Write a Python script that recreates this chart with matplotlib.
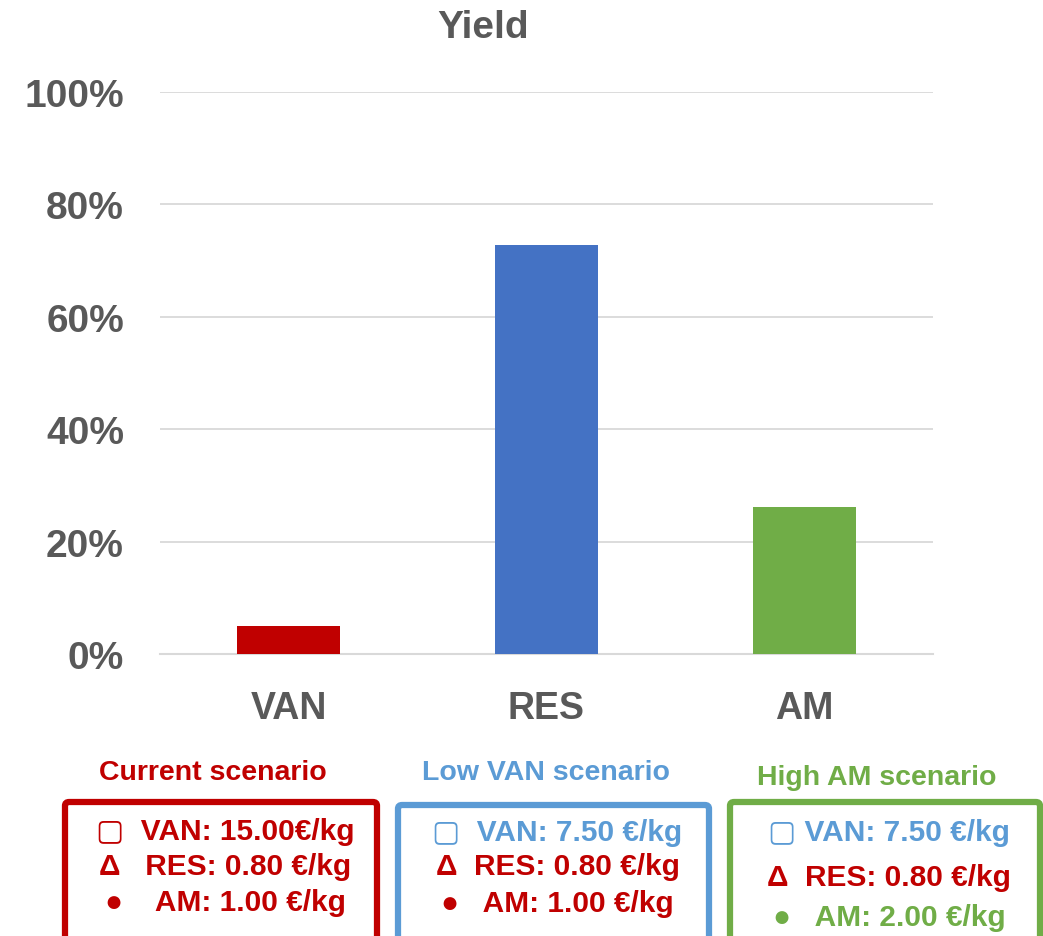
import numpy as np
import matplotlib
matplotlib.use('Agg')
import matplotlib.pyplot as plt
from matplotlib.patches import FancyBboxPatch
from matplotlib.ticker import PercentFormatter

plt.rcParams['font.family'] = ['Liberation Sans', 'DejaVu Sans']

# data
categories = ['VAN', 'RES', 'AM']
yield_values = [0.05, 0.728, 0.262]
bar_colors = ['#C00000', '#4472C4', '#70AD47']

scenario_names = ['Current scenario', 'Low VAN scenario', 'High AM scenario']
scenario_colors = ['#C00000', '#5B9BD5', '#70AD47']
scenario_lines = [
    [('\u25A2  VAN: 15.00\u20ac/kg', '#C00000'),
     ('\u0394   RES: 0.80 \u20ac/kg', '#C00000'),
     ('\u25CF    AM: 1.00 \u20ac/kg', '#C00000')],
    [('\u25A2  VAN: 7.50 \u20ac/kg', '#5B9BD5'),
     ('\u0394  RES: 0.80 \u20ac/kg', '#C00000'),
     ('\u25CF   AM: 1.00 \u20ac/kg', '#C00000')],
    [('\u25A2 VAN: 7.50 \u20ac/kg', '#5B9BD5'),
     ('\u0394  RES: 0.80 \u20ac/kg', '#C00000'),
     ('\u25CF   AM: 2.00 \u20ac/kg', '#70AD47')],
]

W, H = 1043, 937
fig = plt.figure(figsize=(W / 100, H / 100), dpi=100)
fig.patch.set_facecolor('white')

ax = fig.add_axes([160 / W, 1 - 655 / H, (933 - 160) / W, (655 - 93) / H])
x = np.arange(len(categories))
ax.bar(x, yield_values, width=0.4, color=bar_colors, zorder=3)
ax.set_xlim(-0.5, 2.5)
ax.set_ylim(0, 1.0)
ax.set_yticks(np.arange(0, 1.01, 0.2))
ax.yaxis.set_major_formatter(PercentFormatter(1.0, decimals=0))
ax.set_xticks(x)
ax.set_xticklabels(categories)
ax.grid(axis='y', color='#D9D9D9', linewidth=1.3, zorder=0)
for s in ['top', 'right', 'left']:
    ax.spines[s].set_visible(False)
ax.spines['bottom'].set_color('#D9D9D9')
ax.spines['bottom'].set_linewidth(1.5)
ax.tick_params(axis='y', length=0, pad=26, labelsize=28, labelcolor='#595959')
ax.tick_params(axis='x', length=0, pad=26, labelsize=27, labelcolor='#595959')
for lbl in ax.get_xticklabels() + ax.get_yticklabels():
    lbl.set_fontweight('bold')

fig.text(483 / W, 1 - 28 / H, 'Yield', ha='center', va='center',
         fontsize=28, fontweight='bold', color='#595959')

# scenario boxes
boxes = [(65, 377, 803), (398, 709, 806), (730, 1040, 803)]
label_y = [773, 773, 778]
line_y = [[832, 867, 903], [833, 867, 904], [833, 878, 918]]
for i, (l, r, t) in enumerate(boxes):
    c = scenario_colors[i]
    patch = FancyBboxPatch((l / W, -0.05), (r - l) / W, (H - t) / H + 0.05,
                           boxstyle='round,pad=0,rounding_size=0.004',
                           transform=fig.transFigure, facecolor='white',
                           edgecolor=c, linewidth=4.5, clip_on=False)
    fig.patches.append(patch)
    cx = (l + r) / 2 / W
    fig.text(cx - 8 / W, 1 - label_y[i] / H, scenario_names[i], ha='center', va='center',
             fontsize=20.5, fontweight='bold', color=c)
    for (txt, col), yy in zip(scenario_lines[i], line_y[i]):
        fig.text(cx + 4 / W, 1 - yy / H, txt, ha='center', va='center',
                 fontsize=21.5, fontweight='bold', color=col)

fig.savefig('out.png', dpi=100, facecolor='white')
plt.close(fig)
